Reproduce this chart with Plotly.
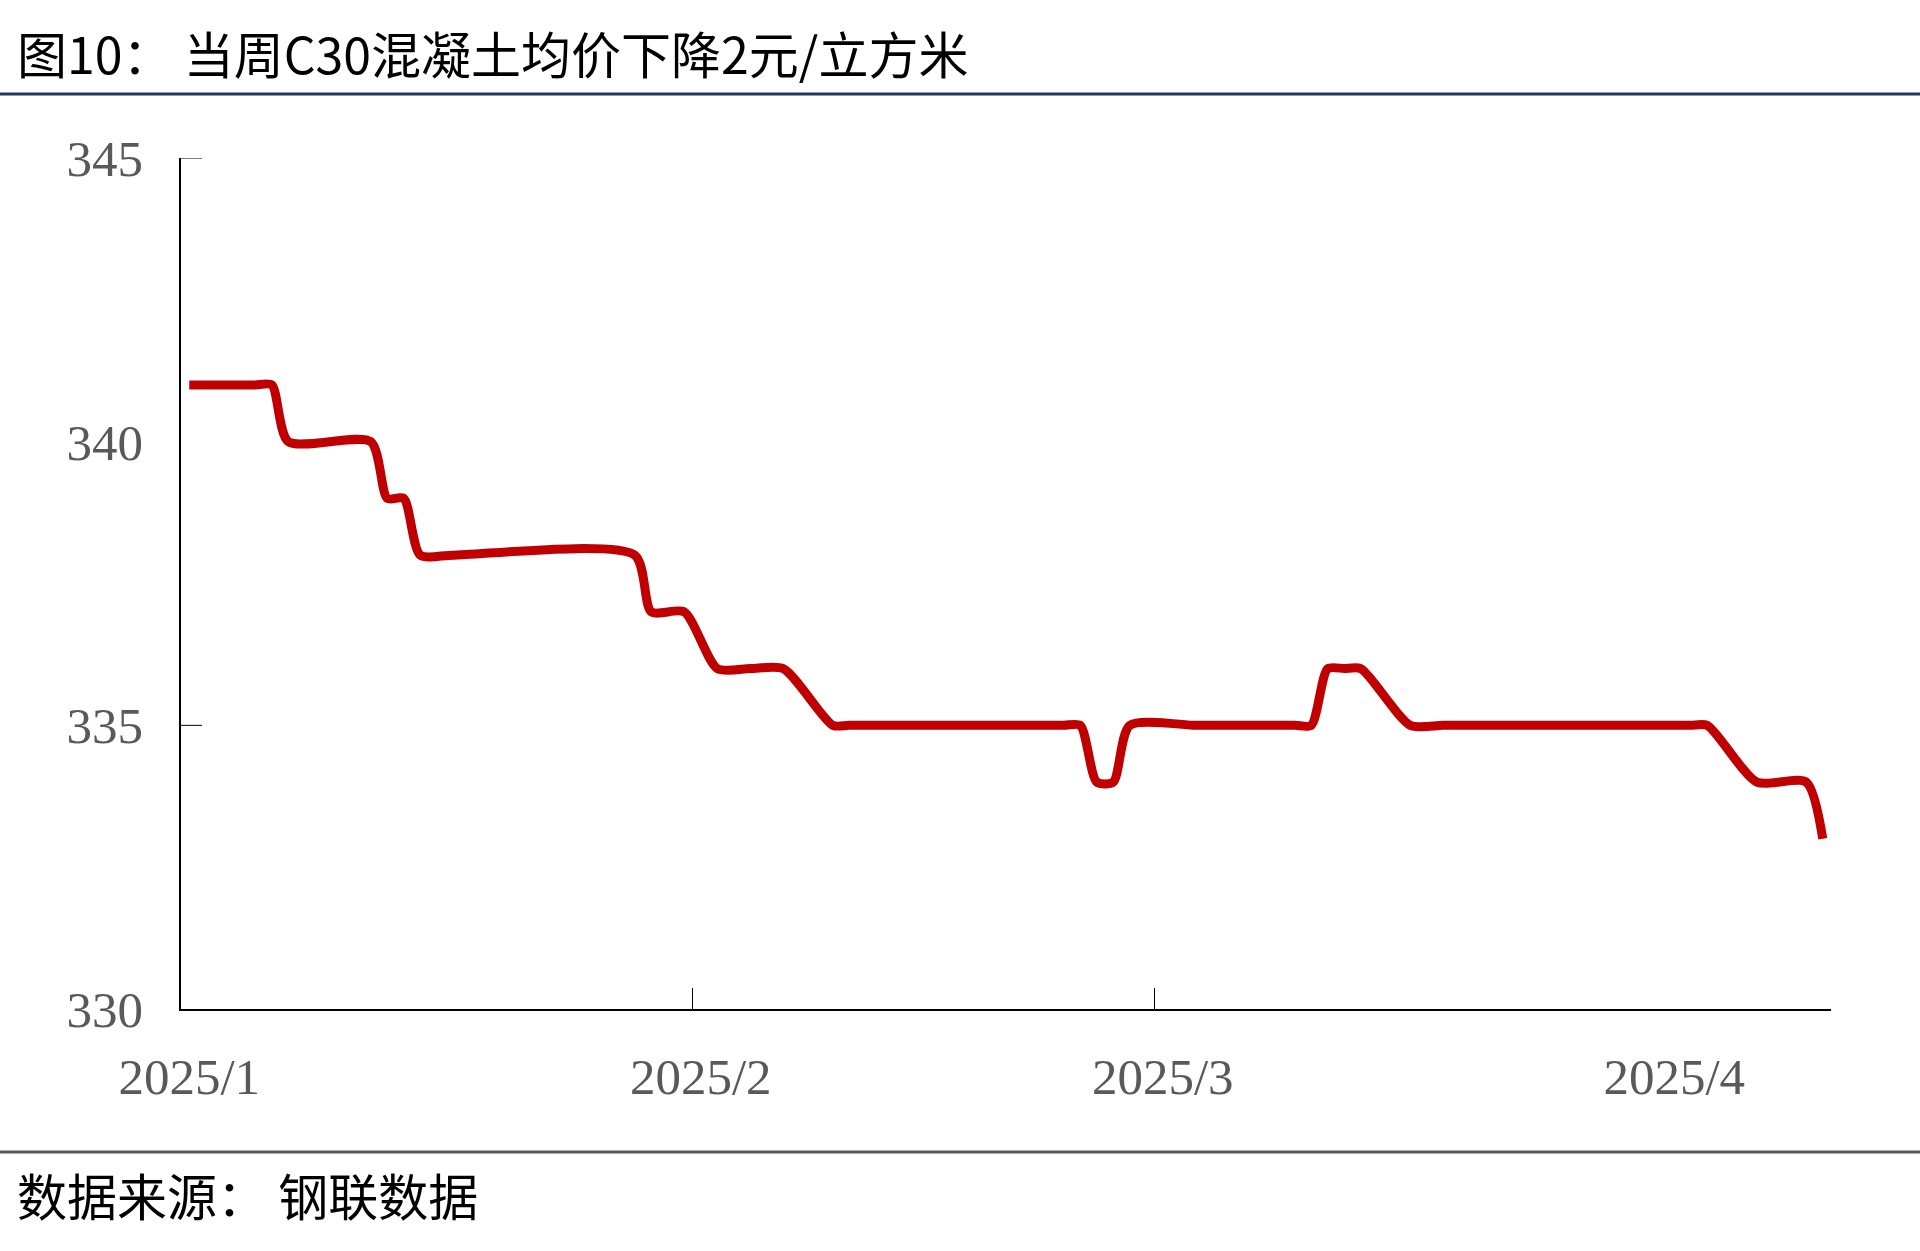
import plotly.graph_objects as go

# ---- data ----
dates = ["2025-01-01", "2025-01-02", "2025-01-03", "2025-01-04", "2025-01-05",
         "2025-01-06", "2025-01-07", "2025-01-12", "2025-01-13", "2025-01-14",
         "2025-01-15", "2025-01-17", "2025-01-28", "2025-01-29", "2025-01-31",
         "2025-02-02", "2025-02-04", "2025-02-06", "2025-02-09", "2025-02-10",
         "2025-02-13", "2025-02-17", "2025-02-20", "2025-02-23", "2025-02-24",
         "2025-02-25", "2025-02-26", "2025-02-27", "2025-03-03", "2025-03-05",
         "2025-03-07", "2025-03-09", "2025-03-10", "2025-03-11", "2025-03-12",
         "2025-03-13", "2025-03-16", "2025-03-18", "2025-03-21", "2025-03-25",
         "2025-03-28", "2025-04-01", "2025-04-02", "2025-04-03", "2025-04-06",
         "2025-04-09", "2025-04-10"]
prices = [341, 341, 341, 341, 341,
          341, 340, 340, 339, 339,
          338, 338, 338, 337, 337,
          336, 336, 336, 335, 335,
          335, 335, 335, 335, 335,
          334, 334, 335, 335, 335,
          335, 335, 335, 336, 336,
          336, 335, 335, 335, 335,
          335, 335, 335, 335, 334,
          334, 333]

tick_dates = ["2025-01-01", "2025-02-01", "2025-03-01", "2025-04-01"]
tick_labels = ["2025/1", "2025/2", "2025/3", "2025/4"]
y_ticks = [330, 335, 340, 345]
x_range = ["2024-12-31 12:00", "2025-04-10 12:00"]
x_tick_marks = ["2025-01-31 12:00", "2025-02-28 12:00"]
y_tick_marks = [335, 345]

title_text = "图10： 当周C30混凝土均价下降2元/立方米"
source_text = "数据来源： 钢联数据"

W, H = 1920, 1251
L, R, T, B = 181, 89, 158, 242
PW = W - L - R
PH = H - T - B


def py(ypix):
    """page pixel y -> paper coordinate"""
    return (T + PH - ypix) / PH


def px(xpix):
    return (xpix - L) / PW


fig = go.Figure()
fig.add_trace(go.Scatter(
    x=dates, y=prices, mode="lines",
    line=dict(color="#C00000", width=9, shape="spline", smoothing=0.7),
    showlegend=False, hoverinfo="x+y",
))

tick_font = dict(family="Liberation Serif, Times New Roman, serif", size=51, color="#595959")
cjk = "Noto Sans CJK SC, sans-serif"

shapes = []
shapes.append(dict(type="line", xref="paper", yref="paper",
                   x0=-0.2, x1=1.2, y0=py(94), y1=py(94),
                   line=dict(color="#1F3864", width=3)))
shapes.append(dict(type="line", xref="paper", yref="paper",
                   x0=-0.2, x1=1.2, y0=py(1152), y1=py(1152),
                   line=dict(color="#595959", width=3)))
for xv in x_tick_marks:
    shapes.append(dict(type="line", xref="x", yref="paper", x0=xv, x1=xv,
                       y0=0, y1=21 / PH, line=dict(color="#000000", width=1)))
for yv in y_tick_marks:
    shapes.append(dict(type="line", xref="paper", yref="y", x0=0, x1=21 / PW,
                       y0=yv, y1=yv, line=dict(color="#000000", width=1)))

fig.update_layout(
    width=W, height=H,
    margin=dict(l=L, r=R, t=T, b=B, pad=0),
    paper_bgcolor="#FFFFFF", plot_bgcolor="#FFFFFF",
    shapes=shapes,
    xaxis=dict(
        type="date", range=x_range,
        tickmode="array", tickvals=tick_dates, ticktext=tick_labels,
        ticks="", showgrid=False, zeroline=False,
        showline=True, linecolor="#000000", linewidth=2,
        tickfont=tick_font, ticklabelstandoff=22,
    ),
    yaxis=dict(
        range=[330, 345], tickmode="array", tickvals=y_ticks,
        ticks="", showgrid=False, zeroline=False,
        showline=True, linecolor="#000000", linewidth=1.5,
        tickfont=tick_font, ticklabelstandoff=26,
    ),
    annotations=[
        dict(text=title_text, xref="paper", yref="paper",
             x=px(15), y=py(52), xanchor="left", yanchor="middle",
             showarrow=False, font=dict(family=cjk, size=50, color="#000000")),
        dict(text=source_text, xref="paper", yref="paper",
             x=px(15), y=py(1194), xanchor="left", yanchor="middle",
             showarrow=False, font=dict(family=cjk, size=50, color="#000000")),
    ],
)

fig.write_html("out.html",
               config={"displayModeBar": False},
               post_script="document.body.style.margin='0';document.body.style.overflow='hidden';")
